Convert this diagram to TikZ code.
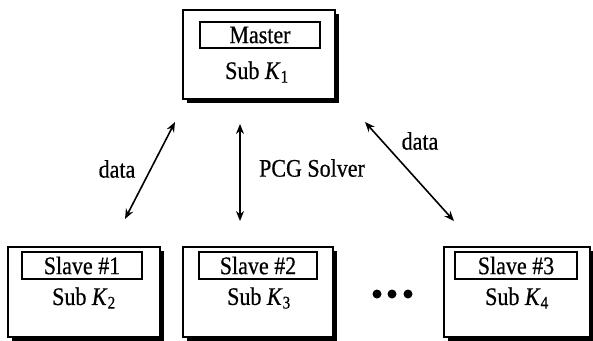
\documentclass[tikz,border=0pt]{standalone}
\usepackage{fontspec}
\setmainfont{Liberation Serif}[FakeBold=0.6]
\usetikzlibrary{arrows.meta,shadows}
\newcommand\vst[1]{\scalebox{1}[1.15]{#1}}
\begin{document}
\begin{tikzpicture}[x=1pt,y=-1pt,
  outerbox/.style={draw=black,line width=1.2pt,fill=white,inner sep=0pt,
     drop shadow={shadow xshift=3.5pt,shadow yshift=-3.5pt,fill=black,opacity=1}},
  innerbox/.style={draw=black,line width=1.2pt,fill=white,inner sep=0pt,
     font=\fontsize{22}{24}\selectfont},
  lbl/.style={font=\fontsize{22}{24}\selectfont,inner sep=0pt},
  dbl/.style={line width=1.6pt,{Stealth[length=10pt,width=8pt]}-{Stealth[length=10pt,width=8pt]}},
  dotn/.style={circle,fill=black,minimum size=9pt,inner sep=0pt}]
\useasboundingbox (0,0) rectangle (593,340);
% master
\node[outerbox,minimum width=152pt,minimum height=89pt] (master) at (259,54.5) {};
\node[innerbox,minimum width=120pt,minimum height=26pt] (mlab) at (260,35) {\vst{Master}};
\node[lbl] (msub) at (257,72) {\vst{Sub \textit{K}\textsubscript{1}}};
% slaves
\node[outerbox,minimum width=152pt,minimum height=90pt] (s1) at (84,292) {};
\node[innerbox,minimum width=120pt,minimum height=27pt] (s1lab) at (82,265.5) {\vst{Slave \#1}};
\node[lbl] (s1sub) at (84,298) {\vst{Sub \textit{K}\textsubscript{2}}};
\node[outerbox,minimum width=150pt,minimum height=90pt] (s2) at (258,292) {};
\node[innerbox,minimum width=118pt,minimum height=27pt] (s2lab) at (258,265.5) {\vst{Slave \#2}};
\node[lbl] (s2sub) at (259,298) {\vst{Sub \textit{K}\textsubscript{3}}};
\node[outerbox,minimum width=146pt,minimum height=90pt] (s3) at (517,292) {};
\node[innerbox,minimum width=122pt,minimum height=27pt] (s3lab) at (516,265.5) {\vst{Slave \#3}};
\node[lbl] (s3sub) at (517,298) {\vst{Sub \textit{K}\textsubscript{4}}};
% dots
\node[dotn] (d1) at (377,294) {};
\node[dotn] (d2) at (392,294) {};
\node[dotn] (d3) at (408,294) {};
% arrows
\coordinate (a1s) at (175,122);
\coordinate (a1e) at (125,219);
\coordinate (a2s) at (240,124);
\coordinate (a2e) at (240,221);
\coordinate (a3s) at (365,122);
\coordinate (a3e) at (454,221);
\draw[dbl] (a1s) -- (a1e);
\draw[dbl] (a2s) -- (a2e);
\draw[dbl] (a3s) -- (a3e);
\node[lbl] (l1) at (117,169) {\vst{data}};
\node[lbl] (l2) at (312,168) {\vst{PCG Solver}};
\node[lbl] (l3) at (420,141) {\vst{data}};
\end{tikzpicture}
\end{document}
